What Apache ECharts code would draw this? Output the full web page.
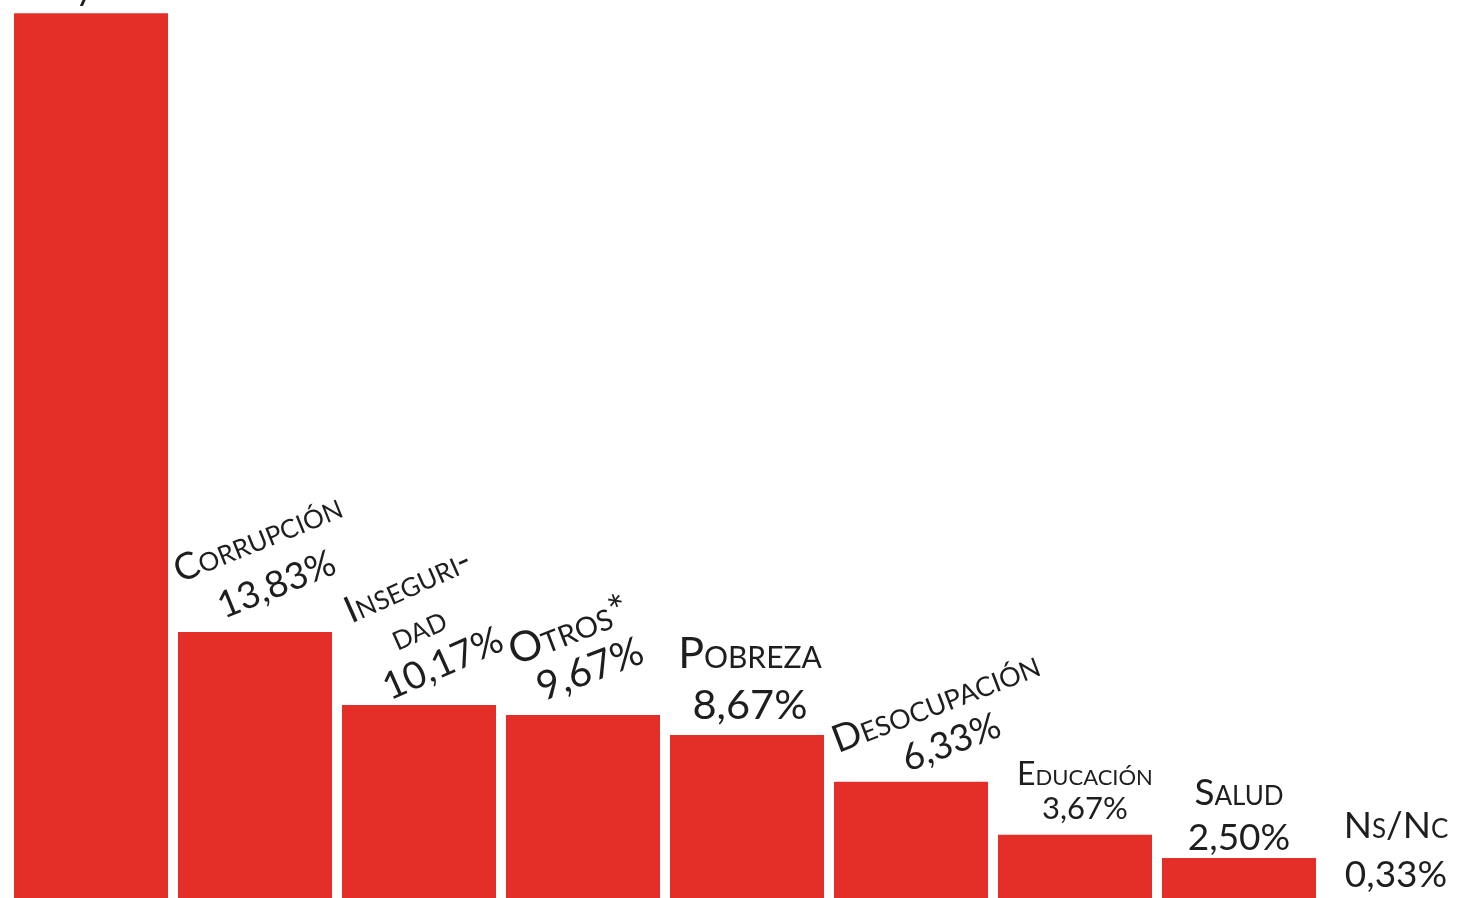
<!DOCTYPE html>
<html>
<head>
<meta charset="utf-8">
<script src="https://cdn.jsdelivr.net/npm/echarts@6/dist/echarts.min.js"></script>
<style>
html,body{margin:0;padding:0;background:#ffffff;overflow:hidden;width:1468px;height:898px;}
#chart{width:1485px;height:908px;}
</style>
</head>
<body>
<div id="chart"></div>
<script>
// ---- data ----
const categories = ['Inflación y economía', 'Corrupción', 'Inseguridad', 'Otros*', 'Pobreza', 'Desocupación', 'Educación', 'Salud', 'Ns/Nc'];
const labelNames = ['Inflación y economía', 'Corrupción', 'Inseguri-\ndad', 'Otros*', 'Pobreza', 'Desocupación', 'Educación', 'Salud', 'Ns/Nc'];
const values = [44.83, 13.83, 10.17, 9.67, 8.67, 6.33, 3.67, 2.50, 0.33];

// ---- label styling (per bar): anchor relative to bar top-left ----
const labelStyles = [
  { pos: [-83, -5], rotate: 0, align: 'left', fs: 36, vfs: 36, lh: [40], title: true },
  { pos: [108, -24], rotate: 22, fs: 37, vfs: 37, lh: [50, 50] },
  { pos: [109, -23], rotate: 24, fs: 37, vfs: 38, lh: [44, 44, 40], padR: [0, 16] },
  { pos: [92, -25], rotate: 21, fs: 42, vfs: 40, lh: [44, 44], padR: [12] },
  { pos: [80, -3], rotate: 0, fs: 43, vfs: 41.5, lh: [52, 52] },
  { pos: [125, -19], rotate: 21, fs: 38, vfs: 37, lh: [43, 43] },
  { pos: [87, -8], rotate: 0, fs: 32, vfs: 31, lh: [35, 35] },
  { pos: [77, 2], rotate: 0, fs: 37, vfs: 37, lh: [45, 45] },
  { pos: [70, -2], rotate: 0, fs: 37, vfs: 37, lh: [49, 49] }
];

const fmt = v => v.toFixed(2).replace('.', ',') + '%';
const TEXT = '#1e1e1e';
const FONT = 'Lato';

const seriesData = values.map((v, i) => {
  const s = labelStyles[i];
  const rich = {};
  let text;
  if (s.title) {
    rich.t = { fontFamily: FONT, fontSize: s.fs, color: TEXT, lineHeight: s.lh[0] };
    text = '{t|' + labelNames[i] + '}';
  } else {
    const lines = labelNames[i].split('\n');
    const parts = lines.map((t, k) => {
      rich['n' + k] = {
        fontFamily: FONT, fontSize: s.fs, fontStyle: 'small-caps', color: TEXT,
        lineHeight: s.lh[k], padding: [0, (s.padR && s.padR[k]) || 0, 0, 0]
      };
      return '{n' + k + '|' + t + '}';
    });
    rich.v = { fontFamily: FONT, fontSize: s.vfs, color: TEXT, lineHeight: s.lh[lines.length] };
    text = parts.join('\n') + '\n{v|' + fmt(v) + '}';
  }
  return {
    value: v,
    label: {
      show: true,
      position: s.pos,
      rotate: s.rotate,
      align: s.align || 'center',
      verticalAlign: 'bottom',
      formatter: text,
      rich: rich
    }
  };
});

const chart = echarts.init(document.getElementById('chart'), null, { renderer: 'canvas' });
chart.setOption({
  animation: false,
  backgroundColor: '#ffffff',
  grid: { left: 9, right: 0, top: 0, bottom: 0 },
  xAxis: {
    type: 'category',
    data: categories,
    axisLine: { show: false },
    axisTick: { show: false },
    axisLabel: { show: false },
    splitLine: { show: false }
  },
  yAxis: {
    type: 'value',
    min: 0,
    max: 45.5,
    show: false,
    splitLine: { show: false }
  },
  series: [{
    type: 'bar',
    data: seriesData,
    barWidth: 154,
    clip: false,
    itemStyle: { color: '#e32f28' },
    labelLayout: { hideOverlap: false }
  }]
});
</script>
</body>
</html>
